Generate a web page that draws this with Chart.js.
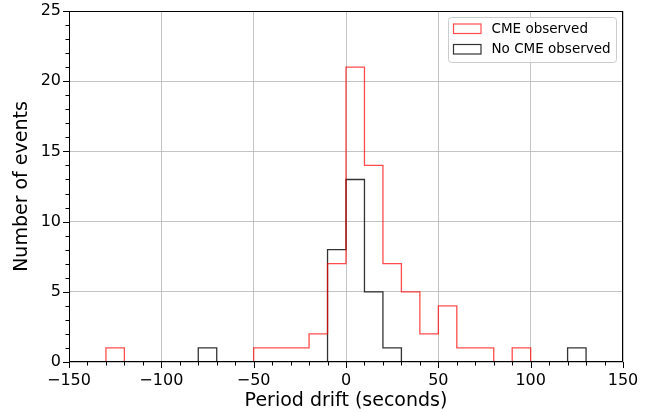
<!DOCTYPE html>
<html>
<head>
<meta charset="utf-8">
<script src="https://cdn.jsdelivr.net/npm/chart.js@4"></script>
<style>
  html, body { margin: 0; padding: 0; background: #fff; }
  #wrap { width: 661px; height: 412px; }
</style>
</head>
<body>
<div id="wrap"><canvas id="hist" width="661" height="412"></canvas></div>
<script>
// Bin edges (seconds) and counts per bin
const binEdges = [-130, -120, -110, -100, -90, -80, -70, -60, -50, -40, -30, -20, -10,
  0, 10, 20, 30, 40, 50, 60, 70, 80, 90, 100, 110, 120, 130];
const cmeCounts = [1, 0, 0, 0, 0, 0, 0, 0, 1, 1, 1, 2, 7,
  21, 14, 7, 5, 2, 4, 1, 1, 0, 1, 0, 0, 0];
const noCmeCounts = [0, 0, 0, 0, 0, 1, 0, 0, 0, 0, 0, 0, 8,
  13, 5, 1, 0, 0, 0, 0, 0, 0, 0, 0, 0, 1];
const seriesLabels = ['CME observed', 'No CME observed'];
const xTicks = [-150, -100, -50, 0, 50, 100, 150];
const yTicks = [0, 5, 10, 15, 20, 25];

const FONT = "'DejaVu Sans', sans-serif";

// step outline like matplotlib histtype='step'
function stepPoints(edges, counts) {
  const pts = [{ x: edges[0], y: 0 }];
  counts.forEach((c, i) => {
    pts.push({ x: edges[i], y: c });
    pts.push({ x: edges[i + 1], y: c });
  });
  pts.push({ x: edges[edges.length - 1], y: 0 });
  return pts;
}

const fmt = (v) => String(v).replace('-', '\u2212');

// frame, minor/major ticks and the legend box
const decor = {
  id: 'decor',
  afterDraw(chart) {
    const { ctx, chartArea: a, scales } = chart;
    ctx.save();
    ctx.strokeStyle = '#000';
    ctx.lineWidth = 1;
    ctx.strokeRect(a.left + 0.5, a.top + 0.5, a.right - a.left - 1, a.bottom - a.top - 1);

    ctx.beginPath();
    for (let v = -150; v <= 150; v += 10) {
      const px = Math.round(scales.x.getPixelForValue(v)) + 0.5;
      const len = v % 50 === 0 ? 6 : 3.5;
      ctx.moveTo(px, a.bottom);
      ctx.lineTo(px, a.bottom + len);
    }
    for (let v = 0; v <= 25; v += 1) {
      const py = Math.round(scales.y.getPixelForValue(v)) + 0.5;
      const len = v % 5 === 0 ? 6 : 3.5;
      ctx.moveTo(a.left, py);
      ctx.lineTo(a.left - len, py);
    }
    ctx.stroke();

    // legend
    const lx = 448.5, ly = 17.5, lw = 168, lh = 45;
    ctx.fillStyle = 'rgba(255,255,255,0.8)';
    ctx.strokeStyle = '#cccccc';
    ctx.beginPath();
    ctx.roundRect(lx, ly, lw, lh, 3);
    ctx.fill();
    ctx.stroke();
    ctx.font = '13.5px ' + FONT;
    ctx.textBaseline = 'middle';
    chart.data.datasets.forEach((ds, i) => {
      const cy = 29 + i * 20.5;
      ctx.strokeStyle = ds.borderColor;
      ctx.lineWidth = 1.2;
      ctx.strokeRect(453.5, cy - 5, 27.5, 9.5);
      ctx.fillStyle = '#000';
      ctx.fillText(ds.label, 491.5, cy);
    });
    ctx.restore();
  }
};

new Chart(document.getElementById('hist'), {
  type: 'line',
  data: {
    datasets: [
      {
        label: seriesLabels[0],
        data: stepPoints(binEdges, cmeCounts),
        borderColor: 'rgba(255,0,0,0.7)',
        borderWidth: 1.3,
        pointRadius: 0,
        tension: 0,
        fill: false
      },
      {
        label: seriesLabels[1],
        data: stepPoints(binEdges, noCmeCounts),
        borderColor: 'rgba(0,0,0,0.8)',
        borderWidth: 1.3,
        pointRadius: 0,
        tension: 0,
        fill: false
      }
    ]
  },
  options: {
    responsive: false,
    animation: false,
    devicePixelRatio: 1,
    layout: { padding: { top: 11, right: 38, left: 11, bottom: 0 } },
    plugins: { legend: { display: false }, tooltip: { enabled: false } },
    scales: {
      x: {
        type: 'linear',
        min: -150,
        max: 150,
        afterBuildTicks: (s) => { s.ticks = xTicks.map((v) => ({ value: v })); },
        afterFit: (s) => { s.height = 50; s.paddingLeft = 0; s.paddingRight = 0; },
        ticks: {
          callback: fmt,
          font: { family: FONT, size: 16 },
          color: '#000',
          padding: 9,
          maxRotation: 0,
          autoSkip: false
        },
        grid: { color: 'rgba(176,176,176,0.75)', lineWidth: 1, drawTicks: false },
        border: { display: false },
        title: {
          display: true,
          text: 'Period drift (seconds)',
          font: { family: FONT, size: 19 },
          color: '#000',
          padding: { top: 0, bottom: 0 }
        }
      },
      y: {
        min: 0,
        max: 25,
        afterBuildTicks: (s) => { s.ticks = yTicks.map((v) => ({ value: v })); },
        afterFit: (s) => { s.width = 58; s.paddingTop = 0; s.paddingBottom = 0; },
        ticks: {
          font: { family: FONT, size: 16 },
          color: '#000',
          padding: 8
        },
        grid: { color: 'rgba(176,176,176,0.75)', lineWidth: 1, drawTicks: false },
        border: { display: false },
        title: {
          display: true,
          text: 'Number of events',
          font: { family: FONT, size: 19 },
          color: '#000',
          padding: { top: 0, bottom: 2 }
        }
      }
    }
  },
  plugins: [decor]
});
</script>
</body>
</html>
